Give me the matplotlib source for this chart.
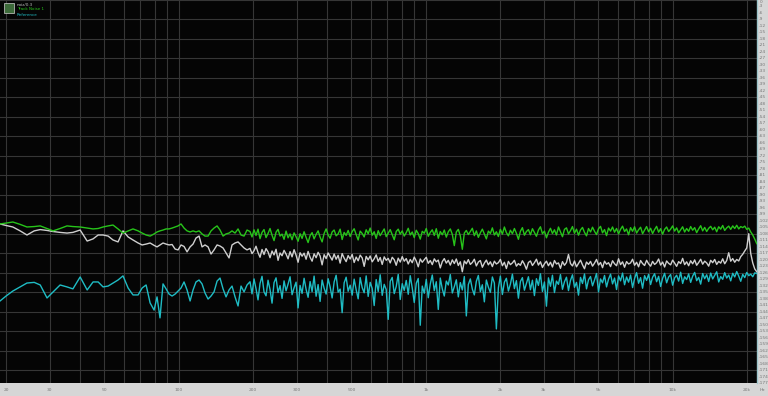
import numpy as np
import matplotlib
matplotlib.use("Agg")
import matplotlib.pyplot as plt
from matplotlib.patches import Rectangle

# ---------------- data ----------------
# low-frequency (sparse) frequency points, Hz
freq_low = [18.9, 20.0, 21.3, 22.8, 24.3, 26.0, 27.5, 29.3, 31.0, 33.1, 35.3, 37.3, 39.9, 42.6,
            45.0, 47.2, 49.4, 51.8, 54.2, 56.8, 59.5, 62.4, 65.3, 68.5, 71.1, 73.8, 76.6, 79.5,
            81.7, 84.0, 86.4, 88.9, 91.4, 94.0, 96.7, 99.4, 102.2, 105.1, 108.1, 111.2, 114.3,
            117.5, 120.9, 124.3, 127.8, 131.5, 135.2, 139.0, 143.0, 147.0, 151.2, 155.5, 159.9,
            164.4, 169.1, 173.9, 178.8, 183.9, 189.1]
# high-frequency (dense) section: sampling grid from 194 Hz to 21.9 kHz
freq_high = np.geomspace(194.4, 21900, 254)

green_low = [-103.5, -103.1, -102.6, -103.7, -104.9, -104.7, -104.4, -105.6, -106.7, -105.6, -104.4,
             -104.7, -104.9, -105.4, -105.8, -105.6, -104.9, -104.4, -104.0, -105.8, -107.7, -106.7,
             -105.8, -106.7, -107.7, -108.6, -109.1, -108.1, -107.2, -106.7, -106.3, -105.8, -105.8,
             -105.4, -104.9, -104.4, -103.5, -105.4, -106.7, -107.2, -106.7, -107.2, -106.7, -108.1,
             -109.1, -109.1, -106.7, -105.4, -104.4, -106.3, -109.1, -108.1, -107.7, -106.7, -107.7,
             -105.8, -108.6, -109.1, -106.3]
green_high = [
    -107.0, -109.5, -106.2, -108.8, -105.9, -110.3, -107.4, -106.1, -109.8, -107.9,
    -105.6, -108.7, -111.2, -107.3, -106.0, -109.1, -108.2, -110.6, -106.8, -109.9,
    -108.1, -110.8, -107.6, -109.4, -111.5, -108.0, -110.2, -107.1, -109.7, -112.1,
    -108.9, -107.5, -110.4, -108.3, -106.7, -109.6, -111.8, -107.9, -105.8, -108.6,
    -110.1, -107.2, -106.3, -109.0, -108.1, -105.9, -110.7, -107.4, -108.8, -106.5,
    -109.3, -107.0, -105.7, -108.4, -110.9, -106.8, -107.9, -109.5, -106.2, -108.0,
    -105.4, -108.7, -107.1, -110.2, -106.6, -108.9, -107.3, -105.8, -109.4, -107.7,
    -106.1, -108.5, -110.8, -107.0, -105.9, -108.2, -106.7, -109.1, -107.5, -105.5,
    -108.6, -107.2, -109.8, -106.4, -108.0, -110.5, -106.9, -107.8, -105.6, -109.2,
    -107.4, -106.2, -108.8, -105.7, -110.1, -107.0, -108.5, -106.3, -109.6, -107.1,
    -105.8, -108.3, -113.5, -107.2, -106.0, -109.0, -115.2, -107.7, -106.5, -108.4,
    -107.0, -105.5, -108.9, -106.7, -109.7, -107.6, -105.9, -108.1, -110.4, -106.8,
    -107.9, -105.3, -108.6, -107.1, -109.3, -106.0, -108.2, -104.9, -107.5, -109.0,
    -106.4, -108.0, -105.6, -107.8, -110.6, -106.9, -105.2, -108.7, -107.0, -106.1,
    -108.5, -105.7, -107.4, -109.2, -106.3, -104.8, -108.0, -106.8, -109.9, -107.3,
    -105.5, -107.9, -106.2, -108.6, -104.9, -107.1, -109.4, -106.0, -105.3, -108.1,
    -106.6, -104.7, -107.8, -105.9, -108.7, -106.3, -105.1, -107.4, -109.0, -105.6,
    -107.2, -105.0, -106.9, -108.4, -105.7, -104.6, -107.6, -106.1, -108.9, -105.4,
    -106.8, -104.9, -107.3, -105.6, -108.1, -106.0, -104.5, -107.0, -105.8, -108.5,
    -105.2, -106.9, -104.8, -107.7, -106.2, -105.0, -108.0, -106.4, -104.7, -107.1,
    -105.5, -107.9, -106.1, -104.6, -107.3, -105.7, -108.2, -106.0, -104.9, -107.0,
    -105.9, -104.4, -106.8, -105.3, -107.6, -106.2, -104.8, -107.2, -105.6, -106.9,
    -104.7, -106.4, -105.2, -107.5, -105.8, -104.3, -106.7, -105.1, -107.0, -105.5,
    -104.6, -106.2, -105.0, -107.1, -104.8, -105.9, -104.2, -106.5, -105.3, -104.5,
    -106.0, -104.4, -105.6, -104.1, -105.8, -104.7, -105.2, -104.5, -106.0, -105.4,
    -107.2, -108.6, -110.5, -112.6]

gray_low = [-103.5, -104.2, -104.9, -106.7, -108.6, -106.7, -106.1, -106.5, -107.0, -107.4, -107.7,
            -107.4, -106.3, -111.4, -110.4, -108.6, -108.6, -109.1, -110.9, -111.8, -106.7, -109.5,
            -110.9, -112.3, -113.2, -112.8, -112.3, -113.4, -114.1, -113.2, -112.3, -112.8, -113.2,
            -113.0, -115.1, -115.5, -113.2, -113.9, -116.4, -114.1, -112.8, -110.0, -109.1, -114.1,
            -113.2, -114.1, -117.4, -115.5, -113.2, -113.7, -114.6, -116.9, -119.2, -113.2, -112.3,
            -111.8, -113.2, -114.6, -115.5]
gray_high = [
    -114.8, -117.2, -115.9, -113.8, -116.7, -118.9, -115.3, -117.6, -114.9, -116.4,
    -119.1, -116.0, -117.8, -115.2, -120.3, -116.9, -118.2, -115.7, -117.4, -119.6,
    -116.3, -118.7, -115.4, -117.9, -121.2, -116.8, -118.4, -117.0, -119.8, -116.2,
    -118.9, -120.7, -117.3, -119.1, -116.6, -118.3, -122.4, -117.7, -119.5, -116.9,
    -118.6, -120.2, -117.4, -119.8, -118.0, -121.6, -117.2, -119.3, -120.9, -118.1,
    -119.7, -117.6, -121.3, -118.8, -120.5, -117.9, -119.2, -123.1, -118.5, -120.1,
    -118.3, -121.0, -119.6, -117.8, -120.8, -119.0, -122.2, -118.7, -120.3, -119.4,
    -121.5, -118.9, -120.0, -122.6, -119.3, -121.1, -118.6, -120.7, -119.5, -122.0,
    -119.9, -121.4, -118.8, -120.6, -123.3, -119.7, -121.2, -120.0, -118.9, -121.7,
    -120.4, -122.3, -119.6, -121.0, -120.2, -123.8, -120.9, -119.5, -121.6, -120.3,
    -122.5, -120.1, -121.8, -119.7, -122.7, -121.0, -125.6, -120.6, -121.9, -120.0,
    -122.2, -121.3, -119.8, -122.9, -121.1, -120.4, -123.5, -121.6, -120.2, -122.4,
    -121.0, -123.2, -120.7, -122.0, -121.4, -119.9, -122.8, -121.2, -124.1, -120.8,
    -122.3, -121.5, -120.3, -123.0, -121.8, -122.6, -120.5, -122.1, -124.4, -121.3,
    -120.6, -122.7, -121.4, -119.8, -122.5, -121.0, -123.6, -121.9, -120.7, -122.8,
    -121.2, -123.4, -120.4, -122.0, -121.5, -124.0, -120.9, -122.6, -121.3, -117.6,
    -121.8, -122.9, -120.6, -123.3, -121.7, -120.2, -122.4, -124.2, -121.1, -122.2,
    -120.8, -123.0, -121.6, -119.9, -122.5, -121.3, -123.7, -120.7, -122.1, -121.4,
    -123.2, -120.5, -121.9, -122.8, -119.6, -122.3, -121.0, -123.5, -120.9, -122.0,
    -121.5, -119.8, -122.6, -121.2, -123.3, -120.4, -121.8, -122.7, -120.3, -121.9,
    -123.0, -120.8, -122.2, -121.4, -119.7, -122.5, -121.1, -123.4, -120.6, -121.7,
    -122.4, -120.2, -121.6, -123.1, -120.9, -121.8, -119.4, -122.3, -121.0, -122.8,
    -120.5, -121.9, -120.1, -122.6, -121.3, -119.8, -122.1, -120.7, -121.5, -123.0,
    -120.3, -121.4, -119.9, -122.2, -120.8, -121.6, -119.6, -121.9, -120.4, -116.8,
    -120.7, -119.5, -121.2, -119.9, -120.6, -118.6, -117.5, -116.0, -114.6, -108.0,
    -117.2, -121.5, -124.3, -125.6]

cyan_low = [-139.1, -136.8, -134.5, -132.6, -130.8, -130.5, -131.7, -137.7, -134.9, -131.7, -132.6,
            -133.5, -128.0, -134.0, -130.3, -130.3, -132.6, -132.2, -130.8, -129.4, -127.5, -133.1,
            -136.3, -136.3, -133.1, -131.7, -140.0, -143.3, -137.2, -146.9, -131.2, -133.5, -135.9,
            -136.8, -135.9, -134.5, -133.1, -130.3, -134.0, -139.1, -134.0, -130.3, -129.4, -131.2,
            -135.4, -138.2, -136.8, -134.9, -129.9, -128.5, -133.5, -137.2, -134.0, -132.2, -137.2,
            -141.4, -132.2, -134.9, -131.7]
cyan_high = [
    -130.2, -135.8, -128.9, -133.4, -138.6, -131.0, -127.7, -134.9, -136.7, -129.5,
    -133.8, -140.1, -130.6, -128.4, -135.2, -132.0, -137.9, -129.8, -134.4, -131.3,
    -127.9, -136.2, -133.0, -130.4, -142.3, -131.9, -135.6, -128.6, -133.7, -137.4,
    -130.1, -134.8, -127.6, -136.9, -131.5, -139.3, -129.4, -133.2, -135.9, -128.8,
    -132.6, -137.7, -130.3, -127.2, -135.0, -133.6, -144.5, -130.7, -128.1, -134.6,
    -131.8, -136.4, -129.0, -133.9, -138.1, -128.3, -132.9, -135.3, -127.5, -137.0,
    -130.5, -133.3, -141.2, -129.2, -134.7, -127.0, -136.5, -131.4, -133.8, -147.6,
    -130.0, -128.2, -135.7, -132.4, -126.8, -138.4, -131.1, -134.2, -129.6, -136.0,
    -127.4, -133.1, -139.8, -130.9, -128.7, -150.3, -132.2, -135.5, -129.1, -137.6,
    -131.2, -127.1, -134.3, -130.2, -143.0, -128.5, -133.5, -136.8, -129.9, -131.7,
    -126.9, -135.4, -132.5, -129.3, -137.2, -130.6, -134.0, -127.8, -146.0, -131.5,
    -128.9, -133.6, -136.3, -130.0, -127.3, -134.8, -131.6, -139.5, -129.4, -132.7,
    -135.1, -128.0, -130.8, -152.0, -133.0, -127.6, -136.1, -130.4, -128.6, -134.5,
    -131.3, -126.7, -133.4, -129.7, -137.8, -130.1, -128.3, -134.1, -131.0, -127.9,
    -133.9, -129.5, -136.6, -128.8, -131.9, -126.5, -134.7, -130.3, -141.5, -128.4,
    -132.3, -127.2, -135.2, -129.9, -131.4, -126.9, -133.7, -130.2, -128.1, -134.3,
    -129.6, -127.0, -132.8, -130.5, -136.4, -128.2, -131.0, -126.6, -133.5, -129.3,
    -127.8, -132.1, -129.4, -126.4, -134.9, -128.9, -130.7, -127.3, -132.6, -129.0,
    -126.7, -131.2, -128.5, -133.8, -127.5, -129.8, -126.2, -131.6, -128.0, -130.4,
    -127.1, -132.9, -128.7, -126.0, -130.9, -128.3, -133.2, -127.4, -129.6, -126.8,
    -131.5, -128.1, -126.5, -130.2, -127.7, -132.4, -128.6, -126.3, -130.7, -128.0,
    -126.9, -131.8, -128.4, -127.2, -129.9, -125.8, -131.0, -127.9, -129.2, -126.6,
    -130.5, -127.6, -125.9, -129.7, -128.2, -131.3, -126.4, -128.8, -127.0, -130.1,
    -126.2, -128.9, -127.3, -125.6, -130.3, -127.8, -129.1, -126.0, -128.5, -127.1,
    -129.8, -126.3, -128.0, -125.5, -127.6, -130.0, -126.8, -128.3, -125.9, -127.4,
    -126.7, -127.9, -126.1, -126.4]

legend_labels = ["noiz/0.3", "Track Noise 1", "Reference"]
x_tick_vals = [20, 30, 50, 100, 200, 300, 500, 1000, 2000, 3000, 5000, 10000, 20000]
x_tick_labels = ["20", "30", "50", "100", "200", "300", "500", "1k", "2k", "3k", "5k", "10k", "20k"]
y_min, y_max = -177, 0

# ---------------- figure ----------------
W, H = 768, 396
fig = plt.figure(figsize=(W / 100, H / 100), dpi=100, facecolor="#d6d6d6")
ax = fig.add_axes([0, 13 / H, 757 / W, 383 / H])
ax.set_facecolor("#050505")
ax.set_xscale("log")
ax.set_xlim(18.9, 21950)
ax.set_ylim(y_min, y_max)

# grid
grid_freqs = []
for dec in [10, 100, 1000, 10000]:
    for m in range(1, 10):
        f = dec * m
        if 18.9 < f < 21950:
            grid_freqs.append(f)
for f in grid_freqs:
    ax.axvline(f, color="#363636", lw=0.8, zorder=1)
for v in range(0, -178, -9):
    ax.axhline(v, color="#363636", lw=0.8, zorder=1)

freq_all = np.concatenate([freq_low, freq_high])
series = [
    (np.concatenate([cyan_low, cyan_high]), "#1fbcc4"),
    (np.concatenate([gray_low, gray_high]), "#cfcfcf"),
    (np.concatenate([green_low, green_high]), "#27c41a"),
]
for vals, col in series:
    ax.plot(freq_all, vals, color=col, lw=1.0, zorder=3)

ax.set_xticks([])
ax.set_yticks([])
ax.minorticks_off()
for s in ["top", "left", "bottom"]:
    ax.spines[s].set_visible(False)
ax.spines["right"].set_color("#9ec6cc")
ax.spines["right"].set_linewidth(1.0)

# right-side dB labels
for v in range(0, -178, -3):
    pos = (v - y_min) / (y_max - y_min)
    if v == 0:
        ax.text(1.003, 1.0, str(v), transform=ax.transAxes,
                ha="left", va="top", fontsize=3.2, color="#777777")
    else:
        ax.text(1.003, pos, str(v), transform=ax.transAxes,
                ha="left", va="center", fontsize=3.2, color="#777777")
# bottom frequency labels
for f, lab in zip(x_tick_vals, x_tick_labels):
    ax.text(f, -0.012, lab, transform=ax.get_xaxis_transform(), ha="center", va="top",
            fontsize=3.2, color="#777777")
fig.text(762 / W, 1 - 390 / H, "Hz", ha="center", va="center", fontsize=3.2, color="#777777")

# legend box (top-left)
fig.patches.append(Rectangle((4 / W, 1 - 13 / H), 10 / W, 10 / H, transform=fig.transFigure,
                             facecolor="#3d6b3a", edgecolor="#cfcfcf", lw=0.5, zorder=5))
leg_cols = ["#bbbbbb", "#27c41a", "#1fbcc4"]
for i, (lab, col) in enumerate(zip(legend_labels, leg_cols)):
    fig.text(17 / W, 1 - (4.5 + 5 * i) / H, lab, ha="left", va="center", fontsize=3.0, color=col)

fig.savefig("out.png", dpi=100, facecolor=fig.get_facecolor())
